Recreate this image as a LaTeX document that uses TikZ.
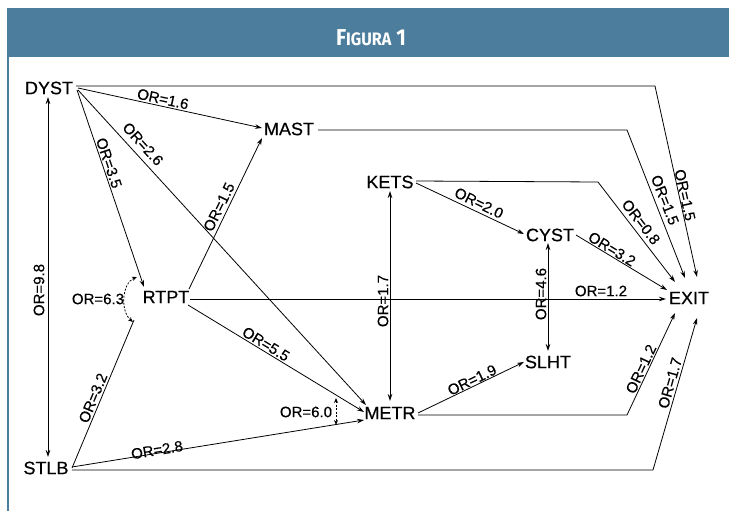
\documentclass[tikz,border=0pt]{standalone}
\usepackage{fontspec}
\setmainfont{Liberation Sans}
\newfontfamily\nodefont{Liberation Sans}[FakeBold=0.4]
\newfontfamily\titlefont{Fira Sans}
\usetikzlibrary{arrows.meta,calc}
\definecolor{hdr}{HTML}{4C7D9C}
\begin{document}
\begin{tikzpicture}[x=1pt,y=-1pt,
  box/.style={inner sep=0pt, font=\nodefont\fontsize{18}{18}\selectfont},
  lbl/.style={inner sep=0pt, font=\nodefont\fontsize{15}{15}\selectfont},
  con/.style={line width=0.8pt, -{Stealth[length=7pt,width=4.5pt]}},
  dcon/.style={line width=0.8pt, {Stealth[length=7pt,width=4.5pt]}-{Stealth[length=7pt,width=4.5pt]}},
  inter/.style={line width=0.8pt, dash pattern=on 2pt off 1.5pt, {Stealth[length=5pt,width=4pt]}-{Stealth[length=5pt,width=4pt]}}
]
\useasboundingbox (0,0) rectangle (729,511);
\fill[white] (0,0) rectangle (729,511);
% header
\fill[hdr] (7,8) rectangle (729,57);
\draw[hdr, line width=2pt] (8,57) -- (8,511);
\node[anchor=base, text=white, inner sep=0pt] (title) at (371,46)
  {\titlefont\bfseries\scalebox{0.9}[1]{\fontsize{23}{23}\selectfont F\fontsize{18}{18}\selectfont IGURA\fontsize{23}{23}\selectfont\ 1}};

% nodes
\node[box] (DYST) at (49,88) {DYST};
\node[box] (MAST) at (289,129) {MAST};
\node[box] (KETS) at (390,182) {KETS};
\node[box] (CYST) at (550,235) {CYST};
\node[box] (RTPT) at (166,297) {RTPT};
\node[box] (EXIT) at (689,298) {EXIT};
\node[box] (SLHT) at (548,362) {SLHT};
\node[box] (METR) at (390,413) {METR};
\node[box] (STLB) at (46,468) {STLB};

% corners
\coordinate (c1) at (655,86);
\coordinate (c2) at (627,130);
\coordinate (c3) at (598,182);
\coordinate (c4) at (627,415);
\coordinate (c5) at (653,470);

% connectors
\draw[con] ($(DYST)+(27,-2)$) -- (c1) -- ($(EXIT)+(8,-21)$);
\draw[con] ($(DYST)+(29,0)$) -- ($(MAST)+(-27,-1)$);
\draw[con] ($(DYST)+(28,2)$) -- ($(RTPT)+(-22,-10)$);
\draw[con] ($(DYST)+(29,2)$) -- ($(METR)+(-24,-8)$);
\draw[dcon] ($(DYST)+(-1,9)$) -- ($(STLB)+(2,-11)$);
\draw[con] ($(MAST)+(29,1)$) -- (c2) -- ($(EXIT)+(-4,-20)$);
\draw[con] ($(RTPT)+(23,-8)$) -- ($(MAST)+(-27,9)$);
\draw[con] ($(KETS)+(26,1)$) -- ($(CYST)+(-26,-1)$);
\draw[con] ($(KETS)+(26,-1)$) -- (c3) -- ($(EXIT)+(-14,-16)$);
\draw[con] ($(CYST)+(26,0)$) -- ($(EXIT)+(-22,-8)$);
\draw[con] ($(RTPT)+(24,2)$) -- ($(EXIT)+(-23,1)$);
\draw[dcon] ($(KETS)+(0,9)$) -- ($(METR)+(0,-12)$);
\draw[dcon] ($(CYST)+(-2,8)$) -- ($(SLHT)+(0,-11)$);
\draw[con] ($(RTPT)+(22,8)$) -- ($(METR)+(-26,-1)$);
\draw[line width=0.8pt] ($(STLB)+(26,0)$) -- ($(RTPT)+(-32,23)$);
\draw[inter] ($(RTPT)+(-29,-20)$) .. controls ($(RTPT)+(-44,-14)$) and ($(RTPT)+(-46,14)$) .. ($(RTPT)+(-33,25)$);
\draw[con] ($(STLB)+(26,-1)$) -- ($(METR)+(-26,7)$);
\draw[inter] ($(METR)+(-54,-15)$) -- ($(METR)+(-54,12)$);
\draw[con] ($(METR)+(28,0)$) -- ($(SLHT)+(-24,0)$);
\draw[con] ($(METR)+(28,2)$) -- (c4) -- ($(EXIT)+(-14,15)$);
\draw[con] ($(STLB)+(26,2)$) -- (c5) -- ($(EXIT)+(8,20)$);

% labels
\node[lbl, rotate=-12.3] (l1) at (163,99) {OR=1.6};
\node[lbl, rotate=-47.7] (l2) at (143,144) {OR=2.6};
\node[lbl, rotate=-71.3] (l3) at (109,163) {OR=3.5};
\node[lbl, rotate=63.7] (l4) at (219,207) {OR=1.5};
\node[lbl, rotate=90] (l5) at (39,290) {OR=9.8};
\node[lbl] (l6) at (98,299) {OR=6.3};
\node[lbl, rotate=67.6] (l7) at (93,398) {OR=3.2};
\node[lbl, rotate=9.5] (l8) at (157,450) {OR=2.8};
\node[lbl] (l9) at (306,412) {OR=6.0};
\node[lbl, rotate=-31.4] (l10) at (266,344) {OR=5.5};
\node[lbl, rotate=90] (l11) at (383,301) {OR=1.7};
\node[lbl, rotate=90] (l12) at (541,294) {OR=4.6};
\node[lbl, rotate=-26.1] (l13) at (479,203) {OR=2.0};
\node[lbl] (l14) at (601,291) {OR=1.2};
\node[lbl, rotate=-31.3] (l15) at (612,249) {OR=3.2};
\node[lbl, rotate=-52.4] (l16) at (641,222) {OR=0.8};
\node[lbl, rotate=-68.6] (l17) at (665,200) {OR=1.5};
\node[lbl, rotate=-77.6] (l18) at (685,195) {OR=1.5};
\node[lbl, rotate=64.8] (l19) at (641,369) {OR=1.2};
\node[lbl, rotate=74] (l20) at (670,383) {OR=1.7};
\node[lbl, rotate=25.7] (l21) at (472,380) {OR=1.9};
\end{tikzpicture}
\end{document}
